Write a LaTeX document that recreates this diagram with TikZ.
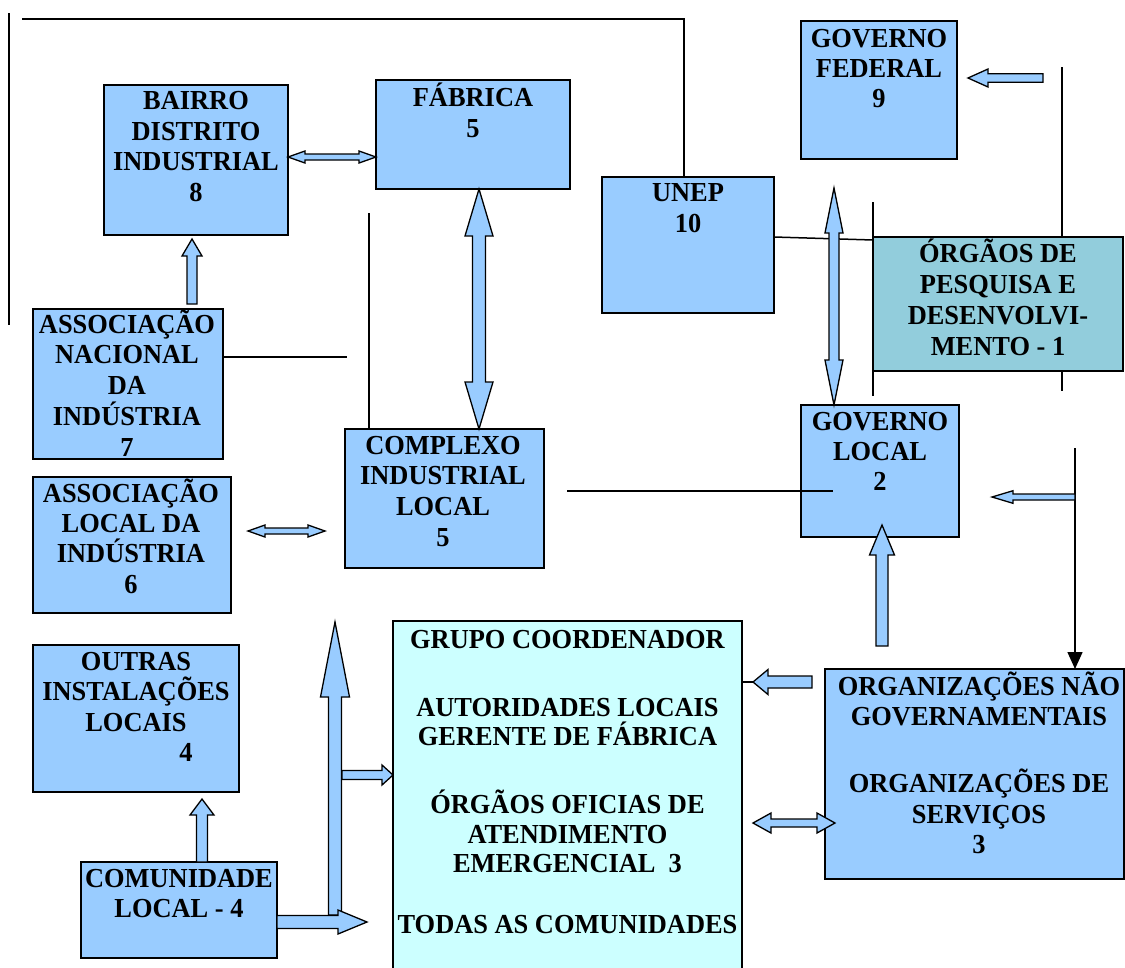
\documentclass[tikz,border=0pt]{standalone}
\usepackage{fontspec}
\setmainfont{Liberation Serif}[FakeStretch=0.96]
\usetikzlibrary{calc,arrows.meta}
\definecolor{boxblue}{HTML}{99CCFF}
\definecolor{tealbox}{HTML}{92CDDC}
\definecolor{paleCyan}{HTML}{CCFFFF}
\tikzset{
  box/.style={draw=black, line width=1.8pt, fill=boxblue, inner sep=0pt, outer sep=0pt, anchor=north west},
  txt/.style={inner sep=0pt, align=center, anchor=north, font=\bfseries\fontsize{27.5}{30.5}\selectfont},
  conn/.style={draw=black, line width=1.5pt},
  barrow/.style={draw=black, line width=1.3pt, fill=boxblue, line join=miter},
}
\newcommand\bt{\rule{0pt}{26pt}}
% single block arrow: from, to, shaft half width, head half width, head length
\newcommand\sarrow[5]{%
  \coordinate (sah) at ($(#2)!#5pt!(#1)$);
  \draw[barrow] ($(#1)!#3pt!90:(#2)$) -- ($(sah)!#3pt!90:(#2)$) -- ($(sah)!#4pt!90:(#2)$) -- (#2)
    -- ($(sah)!#4pt!-90:(#2)$) -- ($(sah)!#3pt!-90:(#2)$) -- ($(#1)!#3pt!-90:(#2)$) -- cycle;}
% double block arrow
\newcommand\darrow[5]{%
  \coordinate (dah1) at ($(#1)!#5pt!(#2)$);
  \coordinate (dah2) at ($(#2)!#5pt!(#1)$);
  \draw[barrow] (#1) -- ($(dah1)!#4pt!90:(#2)$) -- ($(dah1)!#3pt!90:(#2)$) -- ($(dah2)!#3pt!90:(#2)$)
    -- ($(dah2)!#4pt!90:(#2)$) -- (#2) -- ($(dah2)!#4pt!-90:(#2)$) -- ($(dah2)!#3pt!-90:(#2)$)
    -- ($(dah1)!#3pt!-90:(#2)$) -- ($(dah1)!#4pt!-90:(#2)$) -- cycle;}
\begin{document}
\begin{tikzpicture}[x=1pt,y=-1pt]
\useasboundingbox (0,0) rectangle (1125,967);
\fill[white] (0,0) rectangle (1125,967);

% line behind the research box
\coordinate (v1a) at (1062,67);
\coordinate (v1b) at (1062,391);
\draw[conn] (v1a) -- (v1b);

% boxes
\node[box, minimum width=184pt, minimum height=150pt] (bairro) at (104,85) {};
\node[box, minimum width=194pt, minimum height=109pt] (fabrica) at (376,80) {};
\node[box, minimum width=172pt, minimum height=136pt] (unep) at (602,177) {};
\node[box, minimum width=156pt, minimum height=138pt] (gfed) at (801,21) {};
\node[box, fill=tealbox, minimum width=250pt, minimum height=134pt] (orgaos) at (873,237) {};
\node[box, minimum width=190pt, minimum height=150pt] (ani) at (33,309) {};
\node[box, minimum width=198pt, minimum height=136pt] (ali) at (33,477) {};
\node[box, minimum width=199pt, minimum height=139pt] (complexo) at (345,429) {};
\node[box, minimum width=158pt, minimum height=132pt] (glocal) at (801,405) {};
\node[box, minimum width=206pt, minimum height=147pt] (outras) at (33,645) {};
\node[box, minimum width=196pt, minimum height=96pt] (comunidade) at (81,862) {};
\node[box, fill=paleCyan, minimum width=349pt, minimum height=360pt] (grupo) at (393,621) {};
\node[box, minimum width=299pt, minimum height=210pt] (ngo) at (825,669) {};

% plain connector lines
\coordinate (lv0a) at (9,13);
\coordinate (lv0b) at (9,325);
\draw[conn] (lv0a) -- (lv0b);
\coordinate (tl) at (22,19);
\coordinate (tunep) at (684,177);
\draw[conn] (tl) -| (tunep);
\coordinate (c369) at (369,213);
\draw[conn] (c369) -- (c369 |- complexo.north);
\coordinate (anil) at (347,357);
\draw[conn] (anil -| ani.east) -- (anil);
\coordinate (h1a) at (567,491);
\coordinate (h1b) at (833,491);
\draw[conn] (h1a) -- (h1b);
\coordinate (u1) at (774,237);
\coordinate (u2) at (873,240);
\draw[conn] (u1) -- (u2);
\coordinate (v2a) at (873,202);
\coordinate (v2b) at (873,396);
\draw[conn] (v2a) -- (v2b);
\coordinate (v3a) at (1075,448);
\coordinate (v3b) at (1075,669);
\draw[conn, -{Triangle[length=17pt,width=15pt]}] (v3a) -- (v3b);

% block arrows
\coordinate (a1a) at (288,157); \coordinate (a1b) at (376,157);
\darrow{a1a}{a1b}{3}{6}{17}
\coordinate (a2a) at (479,189); \coordinate (a2b) at (479,429);
\darrow{a2a}{a2b}{6.5}{14}{47}
\coordinate (a3a) at (192,304); \coordinate (a3b) at (192,239);
\sarrow{a3a}{a3b}{5}{10}{17}
\coordinate (a4a) at (248,531); \coordinate (a4b) at (325,531);
\darrow{a4a}{a4b}{3}{6}{17}
\coordinate (a5a) at (834,188); \coordinate (a5b) at (834,405);
\darrow{a5a}{a5b}{5}{9}{45}
\coordinate (a6a) at (1043,78); \coordinate (a6b) at (968,78);
\sarrow{a6a}{a6b}{4.3}{9}{20}
\coordinate (a7a) at (1075,497); \coordinate (a7b) at (992,497);
\sarrow{a7a}{a7b}{3}{6.3}{21}
\coordinate (a8a) at (882,646); \coordinate (a8b) at (882,525);
\sarrow{a8a}{a8b}{6}{12.5}{30}
\coordinate (a9a) at (812,682); \coordinate (a9b) at (753,682);
\draw[conn] (a9b -| grupo.east) -- (a9b);
\sarrow{a9a}{a9b}{6}{12.5}{15}
\coordinate (a10a) at (753,823); \coordinate (a10b) at (835,823);
\darrow{a10a}{a10b}{4}{10}{18}
\coordinate (a11a) at (202,862); \coordinate (a11b) at (202,799);
\sarrow{a11a}{a11b}{5.5}{12}{16}
\coordinate (a12a) at (335,915); \coordinate (a12b) at (335,622);
\sarrow{a12a}{a12b}{6.5}{14.5}{75}
\coordinate (a13a) at (342,775); \coordinate (a13b) at (393,775);
\sarrow{a13a}{a13b}{4.5}{10}{11}
\coordinate (a14a) at (277,922); \coordinate (a14b) at (367,922);
\sarrow{a14a}{a14b}{6.5}{12}{29}

% texts
\node[txt] (bairrot) at (196,83.5) {\bt BAIRRO\\DISTRITO\\INDUSTRIAL\\8};
\node[txt, font=\bfseries\fontsize{27.5}{31}\selectfont] (fabricat) at (473,80) {\bt FÁBRICA\\5};
\node[txt, font=\bfseries\fontsize{27.5}{31}\selectfont] (unept) at (688,175) {\bt UNEP\\10};
\node[txt, font=\bfseries\fontsize{27.5}{30}\selectfont] (gfedt) at (879,21) {\bt GOVERNO\\FEDERAL\\9};
\node[txt, font=\bfseries\fontsize{27.5}{31}\selectfont] (orgaost) at (998,236) {\bt ÓRGÃOS DE\\PESQUISA E\\DESENVOLVI-\\MENTO - 1};
\node[txt, font=\bfseries\fontsize{27.5}{30.75}\selectfont] (anit) at (127,307) {\bt ASSOCIAÇÃO\\NACIONAL\\DA\\INDÚSTRIA\\7};
\node[txt, font=\bfseries\fontsize{27.5}{30.3}\selectfont] (alit) at (131,476) {\bt ASSOCIAÇÃO\\LOCAL DA\\INDÚSTRIA\\6};
\node[txt, font=\bfseries\fontsize{27.5}{30.7}\selectfont] (complexot) at (443,428) {\bt COMPLEXO\\INDUSTRIAL\\LOCAL\\5};
\node[txt, font=\bfseries\fontsize{27.5}{30}\selectfont] (glocalt) at (880,404) {\bt GOVERNO\\LOCAL\\2};
\node[txt] (outrast) at (136,644) {\bt OUTRAS\\INSTALAÇÕES\\LOCAIS\\\hspace*{100pt}4};
\node[txt, font=\bfseries\fontsize{27.5}{30}\selectfont] (comunidadet) at (179,861) {\bt COMUNIDADE\\LOCAL - 4};
\node[txt, font=\bfseries\fontsize{27.5}{29.5}\selectfont] (grupot) at (567.5,622) {\bt GRUPO COORDENADOR\\[38.5pt]AUTORIDADES LOCAIS\\GERENTE DE FÁBRICA\\[38.5pt]ÓRGÃOS OFICIAS DE\\ATENDIMENTO\\EMERGENCIAL~~3\\[31.5pt]TODAS AS COMUNIDADES};
\node[txt, font=\bfseries\fontsize{27.5}{30.5}\selectfont] (ngot) at (979,669) {\bt ORGANIZAÇÕES NÃO\\GOVERNAMENTAIS\\[36.5pt]ORGANIZAÇÕES DE\\SERVIÇOS\\3};
\end{tikzpicture}
\end{document}
